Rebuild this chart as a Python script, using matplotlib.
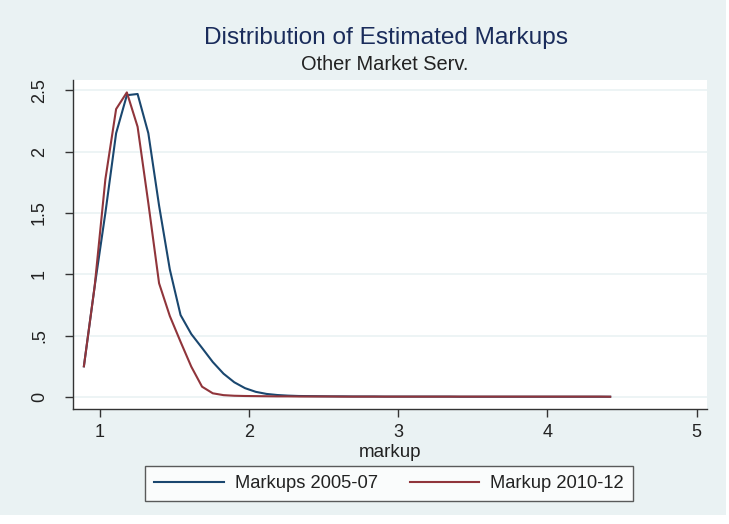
import matplotlib
matplotlib.use("Agg")
import matplotlib.pyplot as plt
from matplotlib.patches import Rectangle

plt.rcParams['font.family'] = ['Liberation Sans', 'DejaVu Sans']

markup = [0.893, 0.965, 1.037, 1.109, 1.181, 1.253, 1.325, 1.397, 1.469, 1.541,
          1.613, 1.685, 1.757, 1.829, 1.901, 1.973, 2.045, 2.117, 2.189, 2.261,
          2.333, 2.405, 2.477, 2.549, 2.621, 2.693, 2.765, 2.837, 2.909, 2.981,
          3.053, 3.125, 3.197, 3.269, 3.341, 3.413, 3.485, 3.557, 3.629, 3.701,
          3.773, 3.845, 3.917, 3.989, 4.061, 4.133, 4.205, 4.277, 4.349, 4.421]

dens_0507 = [0.25, 0.90, 1.50, 2.15, 2.46, 2.47, 2.15, 1.56, 1.04, 0.668,
             0.513, 0.40, 0.285, 0.19, 0.12, 0.072, 0.042, 0.025, 0.016, 0.011,
             0.008, 0.007, 0.006, 0.005, 0.005, 0.004, 0.004, 0.004, 0.003, 0.003,
             0.003, 0.003, 0.003, 0.003, 0.003, 0.002, 0.002, 0.002, 0.002, 0.002,
             0.002, 0.002, 0.002, 0.002, 0.002, 0.002, 0.002, 0.002, 0.002, 0.002]

dens_1012 = [0.25, 0.90, 1.775, 2.347, 2.483, 2.203, 1.58, 0.927, 0.66, 0.45,
             0.247, 0.084, 0.03, 0.015, 0.01, 0.008, 0.007, 0.006, 0.005, 0.005,
             0.004, 0.004, 0.004, 0.004, 0.003, 0.003, 0.003, 0.003, 0.003, 0.003,
             0.003, 0.003, 0.003, 0.003, 0.003, 0.003, 0.003, 0.003, 0.003, 0.003,
             0.003, 0.003, 0.003, 0.003, 0.003, 0.003, 0.003, 0.003, 0.003, 0.002]

labels = ["Markups 2005-07", "Markup 2010-12"]
xticks = [1, 2, 3, 4, 5]
yticks = [0, 0.5, 1, 1.5, 2, 2.5]
yticklabels = ["0", ".5", "1", "1.5", "2", "2.5"]

BG = "#eaf2f3"
BLUE = "#1a476f"
RED = "#90353b"

W, H = 729, 524
fig = plt.figure(figsize=(W / 100, H / 100), dpi=100, facecolor="white")
fig.patches.append(Rectangle((0, 9 / H), 726 / W, 1 - 9 / H, transform=fig.transFigure,
                             facecolor=BG, edgecolor="none", zorder=-10))

ax = fig.add_axes([73 / W, 1 - 409 / H, (707 - 73) / W, (409 - 80) / H])
ax.set_facecolor("white")
for y in yticks:
    ax.axhline(y, color=BG, lw=1.2, zorder=0)

ax.plot(markup, dens_0507, color=BLUE, lw=1.5, label=labels[0], zorder=3)
ax.plot(markup, dens_1012, color=RED, lw=1.5, label=labels[1], zorder=3)

ax.set_xlim(0.82, 5.07)
ax.set_ylim(-0.098, 2.584)
ax.set_xticks(xticks)
ax.set_xticklabels([str(t) for t in xticks])
ax.set_yticks(yticks)
ax.set_yticklabels(yticklabels, rotation=90, va="center")
ax.tick_params(axis="both", direction="out", length=6, width=1, colors="#333333",
               labelcolor="#222222", labelsize=13)
ax.tick_params(axis="x", pad=5)
ax.tick_params(axis="y", pad=12)
for s in ["top", "right"]:
    ax.spines[s].set_visible(False)
for s in ["left", "bottom"]:
    ax.spines[s].set_color("#333333")
    ax.spines[s].set_linewidth(1)

ax.set_xlabel("markup", fontsize=13.5, color="#222222", labelpad=2)

fig.text(386 / W, 1 - 38 / H, "Distribution of Estimated Markups", ha="center", va="center",
         fontsize=17.6, color="#1a2c5b")
fig.text(385 / W, 1 - 64 / H, "Other Market Serv.", ha="center", va="center",
         fontsize=14.4, color="#222222")

leg = fig.legend(loc="center", bbox_to_anchor=(389 / W, 1 - 483.5 / H), ncol=2,
                 frameon=True, fancybox=False, fontsize=13.2, handlelength=3.8,
                 columnspacing=1.75, borderpad=0.5, handletextpad=0.6)
leg.get_frame().set_edgecolor("#333333")
leg.get_frame().set_linewidth(1)
leg.get_frame().set_facecolor("white")
for t in leg.get_texts():
    t.set_color("#222222")

fig.savefig("out.png", dpi=100, facecolor=fig.get_facecolor())
